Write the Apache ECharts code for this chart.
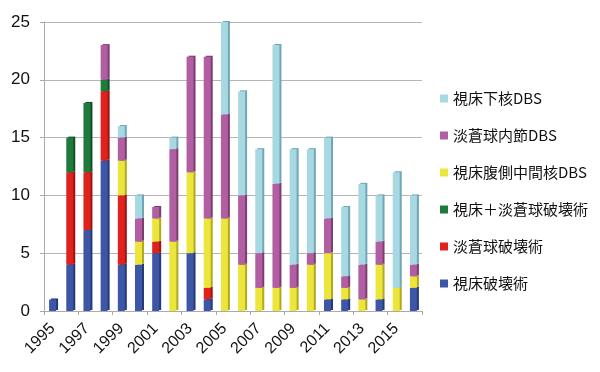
<!DOCTYPE html>
<html><head><meta charset="utf-8">
<script src="https://cdn.jsdelivr.net/npm/echarts@6/dist/echarts.min.js"></script>
<style>html,body{margin:0;padding:0;background:#fff}#c{width:600px;height:372px}</style>
</head><body><div id="c"></div>
<script>
const years = ['1995','1996','1997','1998','1999','2000','2001','2002','2003','2004','2005','2006','2007','2008','2009','2010','2011','2012','2013','2014','2015','2016'];
const thalamotomy      = [1,4,7,13,4,4,5,0,5,1,0,0,0,0,0,0,1,1,0,1,0,2];
const pallidotomy      = [0,8,5,6,6,0,1,0,0,1,0,0,0,0,0,0,0,0,0,0,0,0];
const thalPallidotomy  = [0,3,6,1,0,0,0,0,0,0,0,0,0,0,0,0,0,0,0,0,0,0];
const vimDBS           = [0,0,0,0,3,2,2,6,7,6,8,4,2,2,2,4,4,1,1,3,2,1];
const gpiDBS           = [0,0,0,3,2,2,1,8,10,14,9,6,3,9,2,1,3,1,3,2,0,1];
const stnDBS           = [0,0,0,0,1,2,0,1,0,0,8,9,9,12,10,9,7,6,7,4,10,6];
const seriesNames = ['視床破壊術','淡蒼球破壊術','視床＋淡蒼球破壊術','視床腹側中間核DBS','淡蒼球内節DBS','視床下核DBS'];
const seriesData = [thalamotomy, pallidotomy, thalPallidotomy, vimDBS, gpiDBS, stnDBS];
const colors = ['#3d56a6','#e0221d','#1f7a3b','#ece63c','#b25ea2','#a8d9e2'];
const sideColors = ['#263a78','#9c1512','#11502a','#b0aa20','#7d3d72','#6fa8b4'];

const chart = echarts.init(document.getElementById('c'));
chart.setOption({
  animation:false,
  backgroundColor:'#fff',
  grid:{left:44,right:178,top:22,bottom:61},
  legend:{
    orient:'vertical', left:435, top:85,
    data: seriesNames.slice().reverse(),
    itemWidth:8, itemHeight:8, itemGap:20, icon:'rect',
    textStyle:{fontFamily:'Noto Sans CJK JP',fontSize:15,color:'#111',lineHeight:17}
  },
  xAxis:{
    type:'category', data:years, boundaryGap:true,
    axisLine:{lineStyle:{color:'#aaa'}},
    axisTick:{show:true,length:4,lineStyle:{color:'#aaa'},alignWithLabel:false},
    axisLabel:{interval:1,rotate:45,margin:15,color:'#111',fontFamily:'Liberation Sans',fontSize:16}
  },
  yAxis:{
    type:'value', min:0, max:25, interval:5,
    axisLine:{show:true,lineStyle:{color:'#aaa'}},
    axisTick:{show:true,length:4,lineStyle:{color:'#aaa'}},
    splitLine:{lineStyle:{color:'#b5b5b5'}},
    axisLabel:{margin:14,color:'#111',fontFamily:'Liberation Sans',fontSize:17}
  },
  series: seriesNames.map((n,i)=>({
    name:n, type:'bar', stack:'s', data:seriesData[i], barWidth:7,
    itemStyle:{color:colors[i], shadowColor:sideColors[i], shadowOffsetX:2, shadowOffsetY:-1, shadowBlur:0}
  }))
});
</script></body></html>
